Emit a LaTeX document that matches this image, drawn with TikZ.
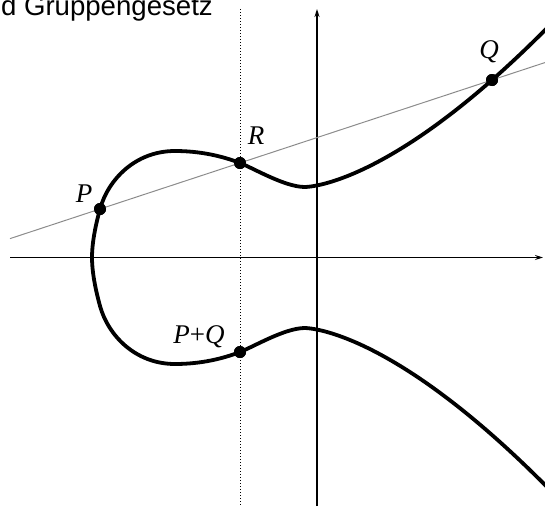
\documentclass[tikz,border=0pt]{standalone}
\usepackage{fontspec}
\setmainfont{Liberation Serif}
\newfontfamily\titlefont{Liberation Sans}
\usetikzlibrary{arrows.meta,calc}
\begin{document}
\begin{tikzpicture}[x=1pt,y=-1pt,
  axis/.style={line width=1.2pt,-{Stealth[length=8pt,width=5pt]}},
  vline/.style={line width=1pt,dash pattern=on 1pt off 2pt},
  chord/.style={line width=1pt,draw=black!45},
  curve/.style={line width=3.8pt,line join=round,line cap=round},
  dot/.style={circle,fill=black,minimum size=12pt,inner sep=0pt},
  lbl/.style={font=\fontsize{27}{30}\selectfont\itshape,inner sep=0pt,anchor=base},
  ttl/.style={font=\titlefont\fontsize{27.6}{30}\selectfont,inner sep=0pt,anchor=base east}]
\useasboundingbox (0,0) rectangle (545,506);
\clip (0,0) rectangle (545,506);
% title (clipped at the top as in the reference)
\node[ttl] (title) at (213,15) {d Gruppengesetz};
% axes
\coordinate (xl) at (10,257.5);
\coordinate (xr) at (543,257.5);
\coordinate (yb) at (317,506);
\coordinate (yt) at (317,9);
\draw[axis] (xl) -- (xr);
\draw[axis] (yb) -- (yt);
% dotted vertical line
\coordinate (vt) at (240,9);
\coordinate (vb) at (240,506);
\draw[vline] (vt) -- (vb);
% points
\node[dot] (P) at (100,209) {};
\node[dot] (R) at (240,163) {};
\node[dot] (Q) at (492,80) {};
\node[dot] (PQ) at (240,352) {};
% chord through P, R, Q
\coordinate (cl) at ($(P)!-0.2296!(Q)$);
\coordinate (cr) at ($(P)!1.1352!(Q)$);
\draw[chord] (cl) -- (cr);
% elliptic curve: upper half
\coordinate (root) at (92,257.5);
\coordinate (Pm) at (100,306);
\draw[curve] (root) .. controls (92,240) and (97,220) .. (P.center)
  .. controls (108,180) and (135,151) .. (175,151)
  .. controls (200,151) and (222,156) .. (R.center)
  .. controls (255,169) and (285,187) .. (305,187)
  -- plot[domain=0.01:248,samples=80] ({305+\x},{187-0.03466*(\x)^1.536});
% lower half
\draw[curve] (root) .. controls (92,275) and (97,295) .. (Pm)
  .. controls (108,335) and (135,364) .. (175,364)
  .. controls (200,364) and (222,359) .. (PQ.center)
  .. controls (255,346) and (285,328) .. (305,328)
  -- plot[domain=0.01:248,samples=80] ({305+\x},{328+0.03466*(\x)^1.536});
% dots on top
\node[dot] at (P) {};
\node[dot] at (R) {};
\node[dot] at (Q) {};
\node[dot] at (PQ) {};
% labels
\node[lbl] (lP) at (84,202) {P};
\node[lbl] (lR) at (256,144) {R};
\node[lbl] (lQ) at (489,58) {Q};
\node[lbl] (lPQ) at (199,343) {P\textup{+}Q};
\end{tikzpicture}
\end{document}
